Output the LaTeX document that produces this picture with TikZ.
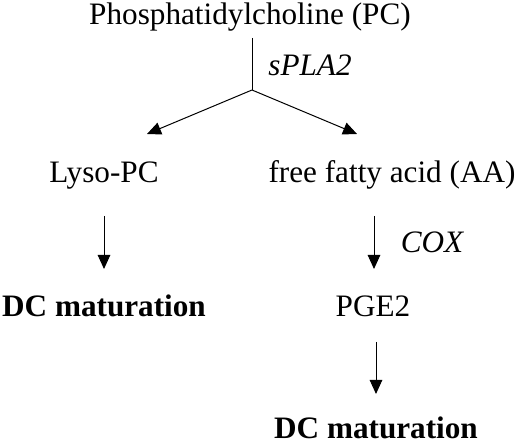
\documentclass[tikz,border=0pt]{standalone}
\usepackage{fontspec}
\setmainfont{Liberation Serif}
\usetikzlibrary{arrows.meta}
\begin{document}
\begin{tikzpicture}[x=1pt,y=-1pt,
  lbl/.style={anchor=base,inner sep=0pt,font=\fontsize{31.2}{36}\selectfont},
  enz/.style={lbl,font=\fontsize{31.2}{36}\selectfont\itshape},
  res/.style={lbl,font=\fontsize{31.2}{36}\selectfont\bfseries},
  arr/.style={line width=1pt,-{Triangle[length=14pt,width=12.5pt]}},
  ln/.style={line width=1pt}]
\useasboundingbox (0,0) rectangle (520,446);
\node[lbl] (pc) at (250,25) {Phosphatidylcholine (PC)};
\coordinate (top) at (252,38);
\coordinate (br) at (252,90);
\coordinate (tipL) at (147,134);
\coordinate (tipR) at (357,134);
\node[enz] (spla) at (310,76) {sPLA2};
\draw[ln] (top) -- (br);
\draw[arr] (br) -- (tipL);
\draw[arr] (br) -- (tipR);
\node[lbl] (lyso) at (104,183) {Lyso-PC};
\node[lbl] (ffa) at (392,183) {free fatty acid (AA)};
\node[res] (dc1) at (104,317) {DC maturation};
\node[lbl] (pge) at (373,317) {PGE2};
\node[enz] (cox) at (432,253) {COX};
\node[res] (dc2) at (376,439) {DC maturation};
\coordinate (l1) at (104,216);
\coordinate (l2) at (104,269);
\coordinate (r1) at (374,216);
\coordinate (r2) at (374,269);
\coordinate (p1) at (376,342);
\coordinate (p2) at (376,394);
\draw[arr] (l1) -- (l2);
\draw[arr] (r1) -- (r2);
\draw[arr] (p1) -- (p2);
\end{tikzpicture}
\end{document}
